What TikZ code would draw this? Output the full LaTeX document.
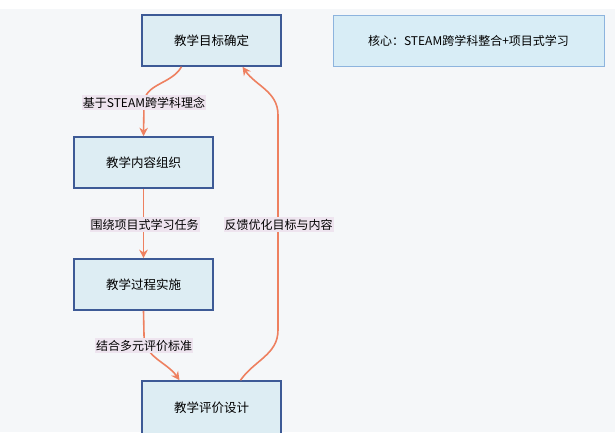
\documentclass[tikz,border=0pt]{standalone}
\usepackage{fontspec}
\setmainfont{Noto Sans CJK SC}
\usetikzlibrary{arrows.meta}
\definecolor{bgc}{HTML}{F5F7F9}
\definecolor{boxfill}{HTML}{DDEDF3}
\definecolor{boxdraw}{HTML}{3D5A96}
\definecolor{corefill}{HTML}{D8EDF6}
\definecolor{coredraw}{HTML}{8DB4DE}
\definecolor{arrc}{HTML}{EE8060}
\definecolor{lblfill}{HTML}{EEE4EF}
\tikzset{
  stepbox/.style={draw=boxdraw,fill=boxfill,line width=1.6pt,minimum width=139pt,minimum height=51pt,inner sep=0pt,font=\fontsize{12.5}{14}\selectfont},
  corebox/.style={draw=coredraw,fill=corefill,line width=0.9pt,minimum width=271pt,minimum height=51pt,inner sep=0pt,font=\fontsize{12}{14}\selectfont},
  lbl/.style={fill=lblfill,inner xsep=1pt,inner ysep=1.5pt,font=\fontsize{12}{14}\selectfont},
  arr/.style={draw=arrc,line width=1.6pt,-{Stealth[length=8.5pt,width=8.5pt]}}
}
\begin{document}
\begin{tikzpicture}[x=1pt,y=-1pt]
\useasboundingbox (0,0) rectangle (615,432);
\fill[white] (0,0) rectangle (615,432);
\fill[bgc] (0,9) rectangle (615,432);
\node[stepbox] (b1) at (211.5,40.5) {教学目标确定};
\node[stepbox] (b2) at (143.5,162.5) {教学内容组织};
\node[stepbox] (b3) at (143.5,284.5) {教学过程实施};
\node[stepbox,minimum height=53pt] (b4) at (211.5,407.5) {教学评价设计};
\node[corebox] (core) at (468.5,40.5) {核心：STEAM跨学科整合+项目式学习};
\coordinate (c1) at (144,104);
\coordinate (c3) at (144,335);
\coordinate (c4a) at (278,330);
\coordinate (c4b) at (278,115);
\draw[arrc,line width=1.6pt] ([xshift=-30pt]b1.south) to[out=-120,in=90] (c1);
\draw[arr] (c1) -- (b2.north);
\draw[arr] (b2.south) -- (b3.north);
\draw[arrc,line width=1.6pt] (b3.south) -- (c3);
\draw[arr] (c3) to[out=-90,in=125] ([xshift=-32pt]b4.north);
\draw[arr] ([xshift=29pt]b4.north) to[out=55,in=-90] (c4a) -- (c4b) to[out=90,in=-55] ([xshift=31pt]b1.south);
\node[lbl] (l1) at (144,102.5) {基于STEAM跨学科理念};
\node[lbl] (l2) at (144.5,224.5) {围绕项目式学习任务};
\node[lbl] (l3) at (278.5,224.5) {反馈优化目标与内容};
\node[lbl] (l4) at (144,345.5) {结合多元评价标准};
\end{tikzpicture}
\end{document}
